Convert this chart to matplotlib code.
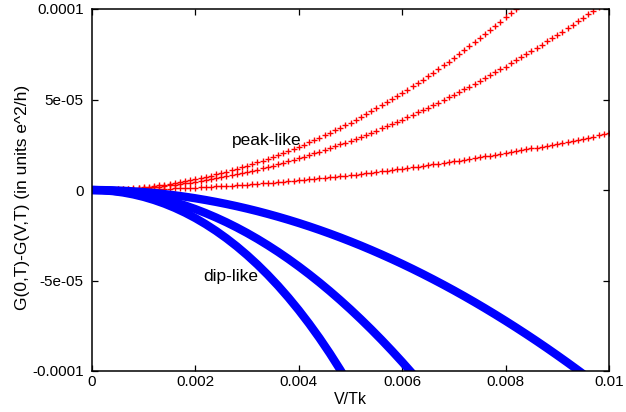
import numpy as np
import matplotlib
matplotlib.use("Agg")
import matplotlib.pyplot as plt

plt.rcParams['font.family'] = ['Liberation Sans', 'DejaVu Sans']

# ---- data (V/Tk and G(0,T)-G(V,T); y values given in units of 1e-6) ----
Y_UNIT = 1e-6

# red "peak-like" curves, sampled every 0.0001 in V/Tk starting at 0
V_red_step = 0.0001
peak_1 = [0.00, 0.01, 0.06, 0.13, 0.24, 0.37, 0.54, 0.73, 0.95, 1.21,
          1.49, 1.80, 2.15, 2.52, 2.92, 3.35, 3.81, 4.31, 4.83, 5.38,
          5.96, 6.57, 7.21, 7.88, 8.58, 9.31, 10.07, 10.86, 11.68, 12.53,
          13.41, 14.32, 15.26, 16.23, 17.22, 18.25, 19.31, 20.40, 21.52, 22.66,
          23.84, 25.05, 26.28, 27.55, 28.85, 30.17, 31.53, 32.91, 34.33, 35.77,
          37.25, 38.75, 40.29, 41.85, 43.45, 45.07, 46.73, 48.41, 50.12, 51.87,
          53.64, 55.44, 57.28, 59.14, 61.03, 62.95, 64.90, 66.89, 68.90, 70.94,
          73.01, 75.11, 77.24, 79.40, 81.59, 83.81, 86.06, 88.34, 90.65, 92.99,
          95.36, 97.76, 100.19, 102.65]
peak_2 = [0.00, 0.01, 0.05, 0.10, 0.18, 0.28, 0.41, 0.55, 0.72, 0.91,
          1.12, 1.36, 1.61, 1.89, 2.19, 2.52, 2.86, 3.23, 3.62, 4.02,
          4.46, 4.91, 5.38, 5.88, 6.40, 6.94, 7.50, 8.08, 8.68, 9.31,
          9.95, 10.62, 11.31, 12.02, 12.75, 13.50, 14.27, 15.06, 15.88, 16.71,
          17.57, 18.44, 19.34, 20.26, 21.20, 22.15, 23.13, 24.13, 25.15, 26.19,
          27.25, 28.33, 29.43, 30.55, 31.69, 32.85, 34.03, 35.23, 36.45, 37.69,
          38.95, 40.23, 41.53, 42.85, 44.19, 45.55, 46.92, 48.32, 49.74, 51.17,
          52.63, 54.10, 55.59, 57.11, 58.64, 60.19, 61.76, 63.35, 64.95, 66.58,
          68.22, 69.89, 71.57, 73.27, 74.99, 76.73, 78.49, 80.26, 82.06, 83.87,
          85.70, 87.55, 89.41, 91.30, 93.20, 95.12, 97.06, 99.02, 101.00]
peak_3 = [0.00, 0.00, 0.01, 0.03, 0.06, 0.09, 0.12, 0.17, 0.22, 0.28,
          0.34, 0.41, 0.49, 0.58, 0.67, 0.77, 0.87, 0.98, 1.10, 1.22,
          1.35, 1.49, 1.64, 1.79, 1.94, 2.11, 2.28, 2.45, 2.63, 2.82,
          3.02, 3.22, 3.43, 3.64, 3.86, 4.09, 4.32, 4.56, 4.81, 5.06,
          5.32, 5.58, 5.85, 6.12, 6.41, 6.70, 6.99, 7.29, 7.59, 7.91,
          8.23, 8.55, 8.88, 9.21, 9.56, 9.90, 10.26, 10.62, 10.98, 11.35,
          11.73, 12.11, 12.50, 12.89, 13.29, 13.70, 14.11, 14.53, 14.95, 15.37,
          15.81, 16.25, 16.69, 17.14, 17.59, 18.06, 18.52, 19.00, 19.47, 19.95,
          20.44, 20.94, 21.44, 21.94, 22.45, 22.96, 23.48, 24.01, 24.53, 25.07,
          25.61, 26.16, 26.71, 27.26, 27.83, 28.39, 28.97, 29.54, 30.12, 30.71,
          31.30]

# blue "dip-like" curves, sampled every 0.0002 in V/Tk starting at 0
V_blue_step = 0.0002
dip_1 = [0.00, -0.15, -0.61, -1.37, -2.44, -3.82, -5.52, -7.53, -9.87, -12.54,
         -15.55, -18.91, -22.62, -26.69, -31.14, -35.98, -41.22, -46.87, -52.94, -59.46,
         -66.43, -73.88, -81.81, -90.26, -99.23, -108.75]
dip_2 = [0.00, -0.11, -0.42, -0.95, -1.69, -2.64, -3.80, -5.17, -6.76, -8.55,
         -10.56, -12.78, -15.21, -17.85, -20.70, -23.76, -27.03, -30.52, -34.21, -38.12,
         -42.24, -46.57, -51.11, -55.86, -60.83, -66.00, -71.39, -76.98, -82.79, -88.81,
         -95.04, -101.48, -108.13]
dip_3 = [0.00, -0.05, -0.18, -0.41, -0.74, -1.15, -1.65, -2.25, -2.93, -3.71,
         -4.58, -5.54, -6.59, -7.73, -8.96, -10.28, -11.69, -13.20, -14.79, -16.47,
         -18.24, -20.10, -22.05, -24.09, -26.22, -28.44, -30.74, -33.14, -35.63, -38.20,
         -40.86, -43.61, -46.45, -49.38, -52.39, -55.49, -58.68, -61.96, -65.33, -68.78,
         -72.32, -75.95, -79.66, -83.46, -87.35, -91.33, -95.39, -99.54, -103.77]

x_ticks = [0, 0.002, 0.004, 0.006, 0.008, 0.01]
x_tick_labels = ["0", "0.002", "0.004", "0.006", "0.008", "0.01"]
y_ticks = [-0.0001, -5e-05, 0, 5e-05, 0.0001]
y_tick_labels = ["-0.0001", "-5e-05", "0", "5e-05", "0.0001"]

# ---- figure ----
fig = plt.figure(figsize=(6.26, 4.12), dpi=100)
ax = fig.add_axes([92/626, 1 - 371/412, 517/626, 362/412])

for ys in (peak_1, peak_2, peak_3):
    y = np.array(ys) * Y_UNIT
    v = np.arange(len(y)) * V_red_step
    ax.plot(v, y, linestyle='none', marker='+', color='#ff0000',
            markersize=5.0, markeredgewidth=1.0)

for ys in (dip_1, dip_2, dip_3):
    y = np.array(ys) * Y_UNIT
    v = np.arange(len(y)) * V_blue_step
    ax.plot(v, y, linestyle='-', color='#0000ff', linewidth=6.0,
            solid_capstyle='butt')

ax.set_xlim(0, 0.01)
ax.set_ylim(-0.0001, 0.0001)
ax.set_xticks(x_ticks)
ax.set_xticklabels(x_tick_labels)
ax.set_yticks(y_ticks)
ax.set_yticklabels(y_tick_labels)
ax.tick_params(direction='in', length=4.5, width=0.9, top=True, right=True,
               labelsize=11, colors='black')
ax.tick_params(axis='x', pad=3)
ax.tick_params(axis='y', pad=6)
for s in ax.spines.values():
    s.set_linewidth(1.1)
    s.set_color('black')

ax.set_xlabel("V/Tk", fontsize=11.5)
ax.set_ylabel("G(0,T)-G(V,T) (in units e^2/h)", fontsize=12.5)
ax.xaxis.set_label_coords(0.5, -0.058)
ax.yaxis.set_label_coords(-0.12, 0.48)

ax.text(0.00271, 2.76e-5, "peak-like", fontsize=12.5, ha='left', va='center')
ax.text(0.00215, -4.8e-5, "dip-like", fontsize=12.5, ha='left', va='center')

fig.savefig("out.png", dpi=100)
